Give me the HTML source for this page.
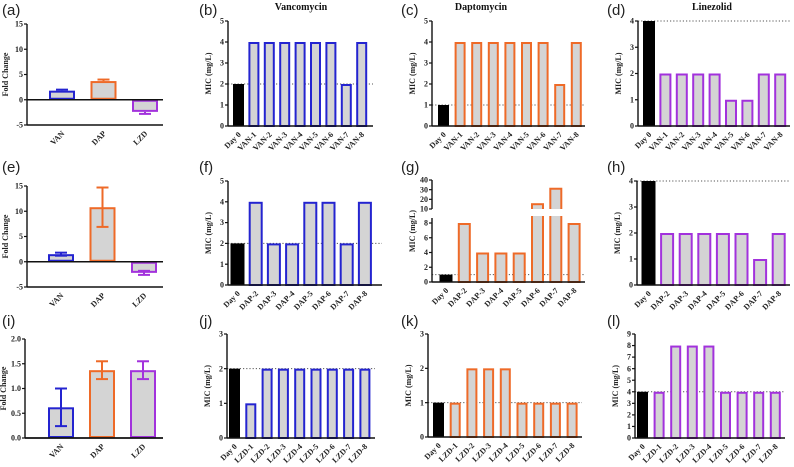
<!DOCTYPE html>
<html><head><meta charset="utf-8">
<style>
html,body{margin:0;padding:0;background:#fff;}
svg{display:block;}
text{font-family:"Liberation Serif",serif;}
.tk{font-size:8px;font-weight:bold;fill:#222;}
.lt{font-family:"Liberation Sans",sans-serif;font-size:15px;fill:#222;}
.ttl{font-size:10px;font-weight:bold;fill:#111;}
.yt{font-size:8px;font-weight:bold;fill:#222;}
</style></head>
<body>
<svg id="fig" width="794" height="467" viewBox="0 0 794 467" xmlns="http://www.w3.org/2000/svg"></svg>
<script>
// ---- data ----
const foldCats = ["VAN","DAP","LZD"];
const foldA = [1.8, 3.7, -2.4];
const foldAErr = [0.2, 0.3, 0.4];
const foldE = [1.5, 10.8, -2.2];
const foldEErr = [0.3, 3.9, 0.4];
const foldI = [0.62, 1.37, 1.37];
const foldIErr = [0.38, 0.18, 0.18];
const foldTicksAE = [-5, 0, 5, 10, 15];
const foldTickLabelsAE = ["-5","0","5","10","15"];
const foldTicksI = [0, 0.5, 1.0, 1.5, 2.0];
const foldTickLabelsI = ["0.0","0.5","1.0","1.5","2.0"];

const vanCats = ["Day 0","VAN-1","VAN-2","VAN-3","VAN-4","VAN-5","VAN-6","VAN-7","VAN-8"];
const dapCats = ["Day 0","DAP-2","DAP-3","DAP-4","DAP-5","DAP-6","DAP-7","DAP-8"];
const lzdCats = ["Day 0","LZD-1","LZD-2","LZD-3","LZD-4","LZD-5","LZD-6","LZD-7","LZD-8"];
const micB = [2,4,4,4,4,4,4,2,4];
const micC = [1,4,4,4,4,4,4,2,4];
const micD = [4,2,2,2,2,1,1,2,2];
const micF = [2,4,2,2,4,4,2,4];
const micG = [1,8,4,4,4,16,32,8];
const micH = [4,2,2,2,2,2,1,2];
const micJ = [2,1,2,2,2,2,2,2,2];
const micK = [1,1,2,2,2,1,1,1,1];
const micL = [4,4,8,8,8,4,4,4,4];
const ticks5 = [0,1,2,3,4,5];
const ticks4 = [0,1,2,3,4];
const ticks3 = [0,1,2,3];
const ticks9 = [0,1,2,3,4,5,6,7,8,9];
const ticksGLow = [0,2,4,6,8];
const ticksGHigh = [10,20,30,40];

const BLUE="#2424d0", ORANGE="#ee6a28", PURPLE="#a232dc", GRAY="#d4d4d4";
const NS="http://www.w3.org/2000/svg";
const svg=document.getElementById('fig');
function el(tag,attrs,parent){const e=document.createElementNS(NS,tag);for(const k in attrs)e.setAttribute(k,attrs[k]);(parent||svg).appendChild(e);return e;}

function letter(t,x,y){const e=el('text',{x:x,y:y,class:'lt'});e.textContent=t;

}
function title(t,x){const e=el('text',{x:x,y:10,class:'ttl','text-anchor':'middle'});e.textContent=t;

}

function yAxis(g,x,yTop,yBot,ticks,labels,scale){
  const a=el('line',{x1:x,x2:x,y1:yTop,y2:yBot,stroke:'#111','stroke-width':1.4},g);
  
  
  ticks.forEach((t,i)=>{const y=scale(t);
    el('line',{x1:x-3,x2:x,y1:y,y2:y,stroke:'#111','stroke-width':1.2},g);
    const tx=el('text',{x:x-4,y:y+2.6,class:'tk','text-anchor':'end'},g);tx.textContent=labels[i];
    
    });
}
function yTitle(g,t,x,yc){const e=el('text',{x:x,y:yc,class:'yt','text-anchor':'middle',transform:`rotate(-90 ${x} ${yc})`},g);e.textContent=t;

}
function xLabels(g,cats,cx,y){cats.forEach((c,i)=>{const x=cx(i)+3;
  const e=el('text',{x:x,y:y,class:'tk','text-anchor':'end',transform:`rotate(-45 ${x} ${y})`},g);e.textContent=c;
  
  });}

function micPanel(cfg){
  const g=el('g',{});
  
  
  const sc=cfg.scale||(v=>cfg.yBot-(v-cfg.min)/(cfg.max-cfg.min)*(cfg.yBot-cfg.yTop));
  const cx=i=>cfg.c0+cfg.step*i;
  const dl=el('line',{x1:cfg.x0,x2:cfg.x1,y1:sc(cfg.vals[0]),y2:sc(cfg.vals[0]),stroke:'#555','stroke-width':1,'stroke-dasharray':'1.2 2'},g);
  
  
  cfg.vals.forEach((v,i)=>{
    const w=cfg.bw, x=cx(i)-w/2, y=sc(v), h=cfg.yBot-y;
    let r;
    if(i===0){r=el('rect',{x:x,y:y,width:w,height:h,fill:'#000'},g);}
    else{r=el('rect',{x:x+1,y:y+1,width:w-2,height:h-1,fill:GRAY,stroke:cfg.color,'stroke-width':2},g);}
    
    
  });
  if(cfg.mask){el('rect',{x:cfg.x0+2,y:cfg.mask[0],width:cfg.x1-cfg.x0,height:cfg.mask[1]-cfg.mask[0],fill:'#fff'},g);}
  const xa=el('line',{x1:cfg.x0,x2:cfg.x1,y1:cfg.yBot,y2:cfg.yBot,stroke:'#111','stroke-width':1.4},g);
  
  
  if(cfg.broken){
    yAxis(g,cfg.x0,cfg.broken.lowTop,cfg.yBot,ticksGLow,ticksGLow.map(String),sc);
    yAxis(g,cfg.x0,cfg.yTop,cfg.broken.highBot,ticksGHigh,ticksGHigh.map(String),sc);
  } else {
    yAxis(g,cfg.x0,cfg.yTop,cfg.yBot,cfg.ticks,cfg.ticks.map(String),sc);
  }
  xLabels(g,cfg.cats,cx,cfg.yBot+9);
  yTitle(g,'MIC (mg/L)',cfg.x0-17,(cfg.yTop+cfg.yBot)/2);
}

function foldPanel(cfg){
  const g=el('g',{});
  
  
  const sc=v=>cfg.yBot-(v-cfg.min)/(cfg.max-cfg.min)*(cfg.yBot-cfg.yTop);
  const cx=i=>cfg.c0+cfg.step*i;
  const cols=[BLUE,ORANGE,PURPLE];
  const y0=sc(0);
  cfg.vals.forEach((v,i)=>{
    const w=26,x=cx(i)-w/2,ya=sc(v);
    const top=Math.min(ya,y0),h=Math.abs(ya-y0);
    const r=el('rect',{x:x+1,y:top+1,width:w-2,height:Math.max(h-2,0.5),fill:GRAY,stroke:cols[i],'stroke-width':2},g);
    
    
    const e=cfg.err[i];
    const yE=v>=0?sc(v+e):sc(v-e);
    const yE2=cfg.both?(v>=0?sc(v-e):sc(v+e)):ya;
    el('line',{x1:cx(i),x2:cx(i),y1:yE,y2:yE2,stroke:cols[i],'stroke-width':2},g);
    el('line',{x1:cx(i)-6,x2:cx(i)+6,y1:yE,y2:yE,stroke:cols[i],'stroke-width':2},g);
    if(cfg.both)el('line',{x1:cx(i)-6,x2:cx(i)+6,y1:yE2,y2:yE2,stroke:cols[i],'stroke-width':2},g);
  });
  el('line',{x1:cfg.x0,x2:cfg.x1,y1:y0,y2:y0,stroke:'#111','stroke-width':1.4},g);
  el('line',{x1:cfg.x0,x2:cfg.x1,y1:cfg.yBot,y2:cfg.yBot,stroke:'#111','stroke-width':1.4},g);
  yAxis(g,cfg.x0,cfg.yTop,cfg.yBot,cfg.ticks,cfg.labels,sc);
  xLabels(g,foldCats,cx,cfg.yBot+9);
  yTitle(g,'Fold Change',cfg.x0-19,(cfg.yTop+cfg.yBot)/2);
}

letter('(a)',2,15);letter('(b)',199,15);letter('(c)',401,15);letter('(d)',607,15);
title('Vancomycin',301);title('Daptomycin',481);title('Linezolid',712);
foldPanel({name:'fold-change-chart-a',vals:foldA,err:foldAErr,x0:27,x1:163,yTop:24,yBot:125,min:-5,max:15,ticks:foldTicksAE,labels:foldTickLabelsAE,c0:62,step:41.5,both:false});
micPanel({name:'mic-chart-b',cats:vanCats,vals:micB,color:BLUE,x0:228,x1:373,yTop:21,yBot:126,min:0,max:5,ticks:ticks5,c0:238.5,step:15.4,bw:11});
micPanel({name:'mic-chart-c',cats:vanCats,vals:micC,color:ORANGE,x0:432,x1:585,yTop:21,yBot:126,min:0,max:5,ticks:ticks5,c0:443.5,step:16.6,bw:11});
micPanel({name:'mic-chart-d',cats:vanCats,vals:micD,color:PURPLE,x0:638,x1:790,yTop:21,yBot:126,min:0,max:4,ticks:ticks4,c0:649,step:16.4,bw:12});

letter('(e)',2,172);letter('(f)',199,172);letter('(g)',401,172);letter('(h)',607,172);
foldPanel({name:'fold-change-chart-e',vals:foldE,err:foldEErr,x0:27,x1:163,yTop:186,yBot:287,min:-5,max:15,ticks:foldTicksAE,labels:foldTickLabelsAE,c0:61,step:41.5,both:true});
micPanel({name:'mic-chart-f',cats:dapCats,vals:micF,color:BLUE,x0:228,x1:382,yTop:181,yBot:285,min:0,max:5,ticks:ticks5,c0:237.5,step:18.2,bw:14});
micPanel({name:'mic-chart-g',cats:dapCats,vals:micG,color:ORANGE,x0:432,x1:585,yTop:180,yBot:282,
  scale:v=>v<=9?282-v*(59/8):209-(v-10)*(29/30),mask:[209,216],broken:{lowTop:218,highBot:209},c0:446,step:18.3,bw:13});
micPanel({name:'mic-chart-h',cats:dapCats,vals:micH,color:PURPLE,x0:637,x1:790,yTop:181,yBot:285,min:0,max:4,ticks:ticks4,c0:648.5,step:18.6,bw:14});

letter('(i)',2,326);letter('(j)',199,326);letter('(k)',401,326);letter('(l)',607,326);
foldPanel({name:'fold-change-chart-i',vals:foldI,err:foldIErr,x0:25,x1:163,yTop:339,yBot:438,min:0,max:2,ticks:foldTicksI,labels:foldTickLabelsI,c0:61,step:41,both:true});
micPanel({name:'mic-chart-j',cats:lzdCats,vals:micJ,color:BLUE,x0:227,x1:375,yTop:334,yBot:438,min:0,max:3,ticks:ticks3,c0:234.5,step:16.3,bw:11});
micPanel({name:'mic-chart-k',cats:lzdCats,vals:micK,color:ORANGE,x0:428,x1:582,yTop:334,yBot:437,min:0,max:3,ticks:ticks3,c0:438.5,step:16.7,bw:11});
micPanel({name:'mic-chart-l',cats:lzdCats,vals:micL,color:PURPLE,x0:635,x1:785,yTop:334,yBot:438,min:0,max:9,ticks:ticks9,c0:642.5,step:16.6,bw:11});
</script>
</body></html>
